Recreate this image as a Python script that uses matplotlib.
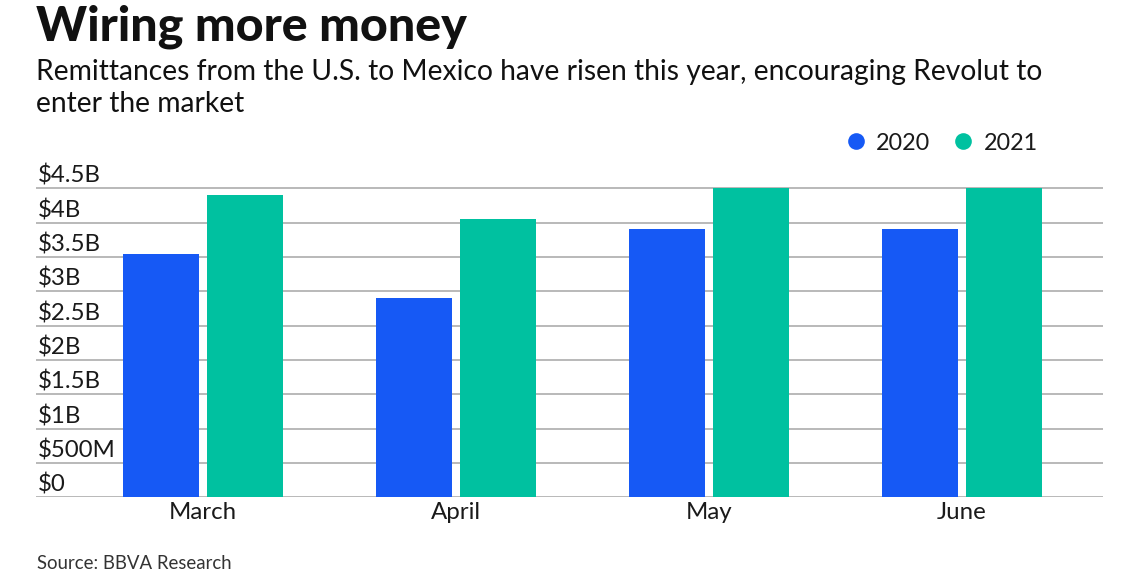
import matplotlib
matplotlib.use("Agg")
import matplotlib.pyplot as plt
import matplotlib.transforms as mtransforms
from matplotlib.lines import Line2D
import numpy as np

plt.rcParams['font.family'] = ['Lato', 'DejaVu Sans']

months = ["March", "April", "May", "June"]
series_names = ["2020", "2021"]
values_2020 = [3.54, 2.90, 3.90, 3.90]
values_2021 = [4.40, 4.05, 4.50, 4.51]
ytick_values = [0, 0.5, 1.0, 1.5, 2.0, 2.5, 3.0, 3.5, 4.0, 4.5]
ytick_labels = ["$0", "$500M", "$1B", "$1.5B", "$2B", "$2.5B", "$3B", "$3.5B", "$4B", "$4.5B"]

title = "Wiring more money"
subtitle_1 = "Remittances from the U.S. to Mexico have risen this year, encouraging Revolut to"
subtitle_2 = "enter the market"
source = "Source: BBVA Research"

blue = "#1659F5"
green = "#00C1A0"
W, H = 1140, 570

fig = plt.figure(figsize=(W / 100, H / 100), dpi=100)
ax_left, ax_right = 36, 1103
y0_px, ytop_val = 497.3, 4.55
px_per_unit = 68.67
ax_top_px = y0_px - ytop_val * px_per_unit
ax = fig.add_axes([ax_left / W, (H - y0_px) / H, (ax_right - ax_left) / W, (y0_px - ax_top_px) / H])

x = np.arange(len(months))
bw = 0.30
off = 0.166
ax.bar(x - off, values_2020, width=bw, color=blue, zorder=3)
ax.bar(x + off, values_2021, width=bw, color=green, zorder=3)

ax.set_xlim(-0.660, 3.5585)
ax.set_ylim(0, ytop_val)

for s in ax.spines.values():
    s.set_visible(False)

ax.set_yticks(ytick_values)
ax.set_yticklabels([])
ax.tick_params(axis='y', length=0)
for v in ytick_values:
    ax.axhline(v, color="#a6a6a6", lw=1.1, zorder=1)

trans = mtransforms.blended_transform_factory(ax.transAxes, ax.transData)
offset = mtransforms.ScaledTranslation(2 / 100, 5.6 / 100, fig.dpi_scale_trans)
for v, lab in zip(ytick_values, ytick_labels):
    ax.text(0, v, lab, transform=trans + offset, ha='left', va='baseline',
            fontsize=17.3, color="#1a1a1a", zorder=4)

ax.set_xticks(x)
ax.set_xticklabels(months, fontsize=17.3, color="#1a1a1a")
ax.tick_params(axis='x', length=0, pad=3.5)

fig.text(36 / W, 1 - 40.7 / H, title, fontsize=34.8, fontweight='black', color="#111111",
         ha='left', va='baseline')
fig.text(36 / W, 1 - 80 / H, subtitle_1, fontsize=20.3, color="#111111", ha='left', va='baseline')
fig.text(36 / W, 1 - 111.5 / H, subtitle_2, fontsize=20.3, color="#111111", ha='left', va='baseline')
fig.text(37 / W, 1 - 569 / H, source, fontsize=13.4, color="#333333", ha='left', va='baseline')

handles = [Line2D([], [], marker='o', linestyle='none', markersize=12, color=c, markeredgewidth=0)
           for c in (blue, green)]
leg = fig.legend(handles, series_names, loc='center left',
                 bbox_to_anchor=(847 / W, 1 - 143 / H), ncol=2, frameon=False,
                 fontsize=16.8, handlelength=0.73, handletextpad=0.52, columnspacing=1.02,
                 borderpad=0, borderaxespad=0)
for t in leg.get_texts():
    t.set_color("#1a1a1a")

fig.savefig("out.png", dpi=100)
